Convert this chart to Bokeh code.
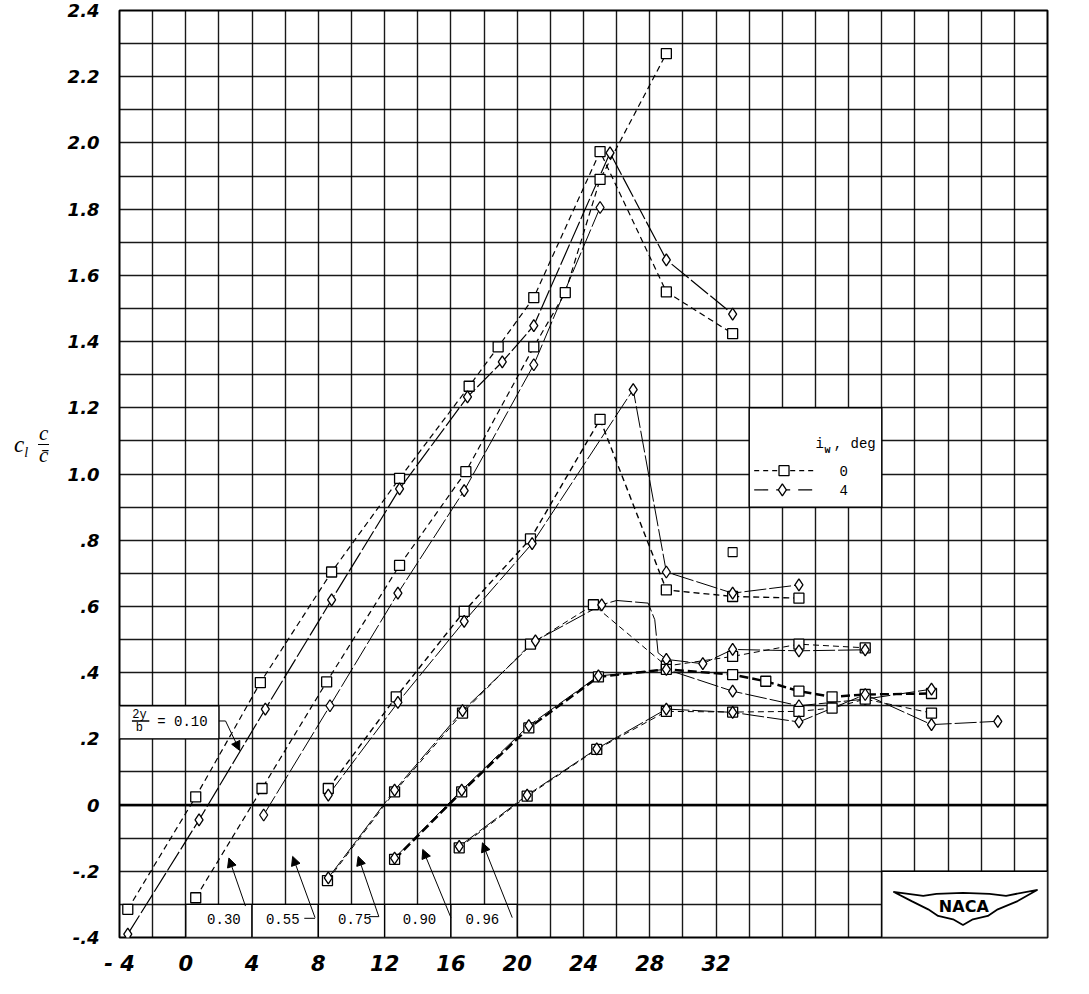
from bokeh.plotting import figure
from bokeh.layouts import row
from bokeh.models import FixedTicker, Arrow, NormalHead, Span, Div
from bokeh.embed import file_html
from bokeh.resources import INLINE
from bokeh.core.properties import value

# ---------------- data ----------------
# 2y/b = 0.10
a010_0 = [-3.5, 0.6, 4.5, 8.8, 12.9, 17.1, 18.85, 21.0, 25.0, 29.0, 33.0]
c010_0 = [-0.315, 0.025, 0.37, 0.704, 0.987, 1.265, 1.384, 1.533, 1.974, 1.55, 1.424]
a010_4 = [-3.5, 0.8, 4.8, 8.8, 12.9, 17.0, 19.1, 21.0, 25.6, 29.0, 33.0]
c010_4 = [-0.39, -0.045, 0.29, 0.62, 0.955, 1.233, 1.339, 1.448, 1.97, 1.647, 1.483]
# 2y/b = 0.30
a030_0 = [0.6, 4.6, 8.5, 12.9, 16.9, 21.0, 22.9, 25.0, 29.0]
c030_0 = [-0.28, 0.05, 0.372, 0.724, 1.007, 1.384, 1.548, 1.89, 2.27]
a030_4 = [4.7, 8.7, 12.8, 16.8, 21.0, 25.0]
c030_4 = [-0.03, 0.30, 0.64, 0.95, 1.33, 1.805]
# 2y/b = 0.55
a055_0 = [8.6, 12.7, 16.8, 20.8, 25.0, 29.0, 33.0, 37.0]
c055_0 = [0.05, 0.327, 0.585, 0.804, 1.165, 0.65, 0.63, 0.625]
a055_4 = [8.6, 12.8, 16.8, 20.9, 27.0, 29.0, 33.0, 37.0]
c055_4 = [0.03, 0.31, 0.555, 0.79, 1.255, 0.704, 0.64, 0.665]
a055_extra = [33.0]
c055_extra = [0.764]
# 2y/b = 0.75
a075_0 = [8.55, 12.6, 16.7, 20.8, 24.6, 29.0, 33.0, 37.0, 41.0]
c075_0 = [-0.228, 0.04, 0.278, 0.486, 0.605, 0.42, 0.449, 0.486, 0.475]
a075_4 = [8.6, 12.6, 16.7, 21.1, 25.1, 29.0, 31.2, 33.0, 37.0, 41.0]
c075_4 = [-0.22, 0.045, 0.285, 0.496, 0.605, 0.44, 0.427, 0.47, 0.466, 0.469]
# faired curve of the 0.75 plateau
a075_curve = [8.6, 12.6, 16.7, 21.1, 25.1, 26.0, 27.9, 28.3, 28.5, 29.0, 31.2, 33.0, 37.0, 41.0]
c075_curve = [-0.22, 0.045, 0.285, 0.496, 0.605, 0.618, 0.61, 0.56, 0.46, 0.44, 0.427, 0.47, 0.466, 0.469]
# 2y/b = 0.90
a090_0 = [12.6, 16.65, 20.7, 24.9, 29.0, 33.0, 35.0, 37.0, 39.0, 41.0, 45.0]
c090_0 = [-0.164, 0.04, 0.233, 0.387, 0.41, 0.394, 0.374, 0.344, 0.327, 0.334, 0.337]
a090_4 = [12.6, 16.65, 20.7, 24.9, 29.0, 33.0, 37.0, 41.0, 45.0]
c090_4 = [-0.16, 0.045, 0.24, 0.39, 0.41, 0.344, 0.30, 0.32, 0.35]
# 2y/b = 0.96
a096_0 = [16.5, 20.6, 24.8, 29.0, 33.0, 37.0, 39.0, 41.0, 45.0]
c096_0 = [-0.129, 0.027, 0.168, 0.283, 0.281, 0.283, 0.293, 0.32, 0.278]
a096_4 = [16.5, 20.6, 24.8, 29.0, 33.0, 37.0, 41.0, 45.0, 49.0]
c096_4 = [-0.125, 0.03, 0.17, 0.29, 0.28, 0.251, 0.334, 0.243, 0.253]

station_labels = ["0.30", "0.55", "0.75", "0.90", "0.96"]
x_tick_vals = [-4, 0, 4, 8, 12, 16, 20, 24, 28, 32]
y_tick_vals = [-0.4, -0.2, 0, 0.2, 0.4, 0.6, 0.8, 1.0, 1.2, 1.4, 1.6, 1.8, 2.0, 2.2, 2.4]
y_tick_text = ["-.4", "-.2", "0", ".2", ".4", ".6", ".8", "1.0", "1.2", "1.4", "1.6", "1.8", "2.0", "2.2", "2.4"]

# ---------------- layout sizes ----------------
TITLE_W = 62
FIG_W = 1073 - TITLE_W
FIG_H = 978

# ---------------- figure ----------------
p = figure(width=FIG_W, height=FIG_H, x_range=(-4, 52), y_range=(-0.4, 2.4),
           output_backend="svg", toolbar_location=None,
           min_border_left=119 - TITLE_W, min_border_right=26,
           min_border_top=10, min_border_bottom=34, margin=0)
p.background_fill_color = "white"
p.border_fill_color = "white"
p.outline_line_color = "black"
p.outline_line_width = 2

p.xgrid.ticker = FixedTicker(ticks=list(range(-4, 53, 2)))
p.ygrid.ticker = FixedTicker(ticks=[round(-0.4 + 0.1 * i, 1) for i in range(29)])
for g in (p.xgrid, p.ygrid):
    g.grid_line_color = "black"
    g.grid_line_width = 1.4
    g.grid_line_alpha = 0.9

p.xaxis.ticker = FixedTicker(ticks=x_tick_vals)
p.xaxis.major_label_overrides = {-4: "- 4"}
p.yaxis.ticker = FixedTicker(ticks=y_tick_vals)
p.yaxis.major_label_overrides = {v: t for v, t in zip(y_tick_vals, y_tick_text)}
for ax in (p.xaxis, p.yaxis):
    ax.axis_line_color = None
    ax.major_tick_line_color = None
    ax.minor_tick_line_color = None
    ax.major_label_text_font = "DejaVu Sans"
    ax.major_label_text_font_style = "bold italic"
    ax.major_label_text_color = "black"
p.xaxis.major_label_text_font_size = "21px"
p.yaxis.major_label_text_font_size = "18px"
p.xaxis.major_label_standoff = 8
p.yaxis.major_label_standoff = 14

p.add_layout(Span(location=0, dimension="width", line_color="black", line_width=2.6))

# white label boxes that interrupt the grid
box_l = [-4, 0, 4, 8, 12, 16, 34, 42]
box_r = [2, 4, 8, 12, 16, 20, 42, 52]
box_b = [0.2, -0.4, -0.4, -0.4, -0.4, -0.4, 0.9, -0.4]
box_t = [0.3, -0.3, -0.3, -0.3, -0.3, -0.3, 1.2, -0.2]
p.quad(left=box_l, right=box_r, bottom=box_b, top=box_t,
       fill_color="white", line_color="black", line_width=1.4)

# ---------------- curves ----------------
DASH0 = "6 4"
DASH4 = "22 3"
series = [
    (a010_0, c010_0, "square", DASH0, 1.2),
    (a010_4, c010_4, "diamond", DASH4, 1.2),
    (a030_0, c030_0, "square", DASH0, 1.2),
    (a030_4, c030_4, "diamond", DASH4, 1.0),
    (a055_0, c055_0, "square", DASH0, 1.4),
    (a055_4, c055_4, "diamond", DASH4, 1.0),
    (a075_0, c075_0, "square", DASH0, 1.0),
    (a075_4, c075_4, "diamond", None, 1.0),
    (a090_0, c090_0, "square", "9 4", 2.4),
    (a090_4, c090_4, "diamond", DASH4, 1.0),
    (a096_0, c096_0, "square", DASH0, 1.0),
    (a096_4, c096_4, "diamond", DASH4, 1.0),
]
for xs, ys, mk, dash, lw in series:
    if dash is not None:
        p.line(xs, ys, line_color="black", line_width=lw, line_dash=dash)
p.line(a075_curve, c075_curve, line_color="black", line_width=1.0, line_dash=DASH4)
for xs, ys, mk, dash, lw in series:
    p.scatter(xs, ys, marker=mk, size=10 if mk == "square" else 12,
              fill_color="white", line_color="black", line_width=1.3)
p.scatter(a055_extra, c055_extra, marker="square", size=9,
          fill_color="white", line_color="black", line_width=1.1)

# ---------------- station labels ----------------
MONO = value("Liberation Mono")
p.text(x=[2.3, 5.85, 10.2, 14.1, 17.9], y=[-0.345] * 5, text=station_labels,
       text_font=MONO, text_font_size="14px", text_align="center",
       text_baseline="middle", text_color="black")
# 2y/b = 0.10
p.text(x=[-2.8], y=[0.272], text=["2y"], text_font=MONO, text_font_size="12px",
       text_align="center", text_baseline="middle")
p.segment(x0=[-3.25], y0=[0.254], x1=[-2.2], y1=[0.254], line_color="black", line_width=1.6)
p.text(x=[-2.8], y=[0.232], text=["b"], text_font=MONO, text_font_size="12px",
       text_align="center", text_baseline="middle")
p.text(x=[-0.2], y=[0.25], text=["= 0.10"], text_font=MONO, text_font_size="14px",
       text_align="center", text_baseline="middle")

# leaders
p.segment(x0=[2.0], y0=[0.254], x1=[2.4], y1=[0.254], line_color="black", line_width=1)
lead = [(2.4, 0.254, 3.25, 0.165), (3.6, -0.305, 2.6, -0.16), (7.8, -0.34, 6.45, -0.155),
        (11.65, -0.337, 10.4, -0.155), (16.0, -0.34, 14.3, -0.134), (19.7, -0.34, 17.9, -0.114)]
for x0, y0, x1, y1 in lead:
    p.add_layout(Arrow(end=NormalHead(size=9, fill_color="black", line_color="black"),
                       x_start=x0, y_start=y0, x_end=x1, y_end=y1,
                       line_color="black", line_width=1))
p.segment(x0=[7.15, 11.05], y0=[-0.342, -0.337], x1=[7.8, 11.65], y1=[-0.342, -0.337],
          line_color="black", line_width=1)

# ---------------- legend ----------------
p.text(x=[38.0], y=[1.09], text=["i"], text_font=MONO, text_font_size="14px",
       text_baseline="middle")
p.text(x=[38.55], y=[1.07], text=["w"], text_font=MONO, text_font_size="10px",
       text_font_style="bold", text_baseline="middle")
p.text(x=[39.1], y=[1.09], text=[",  deg"], text_font=MONO, text_font_size="14px",
       text_baseline="middle")
p.line([34.3, 38.1], [1.01, 1.01], line_color="black", line_width=1.2, line_dash="5 4")
p.line([34.3, 38.1], [0.952, 0.952], line_color="black", line_width=1.2, line_dash="14 8")
p.scatter([36.1], [1.01], marker="square", size=10, fill_color="white", line_color="black", line_width=1.3)
p.scatter([36.0], [0.952], marker="diamond", size=12, fill_color="white", line_color="black", line_width=1.3)
p.text(x=[39.7, 39.7], y=[1.01, 0.952], text=["0", "4"], text_font=MONO, text_font_size="14px",
       text_align="center", text_baseline="middle")

# ---------------- NACA logo ----------------
logo_x = [42.7, 44.5, 45.3, 46.9, 48.5, 49.5, 51.4, 50.2, 49.0, 48.4, 47.5, 46.9, 46.3, 45.4, 44.8, 43.8]
logo_y = [-0.262, -0.274, -0.268, -0.265, -0.268, -0.274, -0.256, -0.29, -0.315, -0.335, -0.345,
          -0.362, -0.345, -0.335, -0.315, -0.29]
p.patch(logo_x, logo_y, fill_color="white", line_color="black", line_width=1.8)
p.text(x=[46.95], y=[-0.305], text=["NACA"], text_font=value("DejaVu Sans"),
       text_font_size="16px", text_font_style="bold", text_align="center", text_baseline="middle")

# ---------------- y axis title (horizontal, as in the reference) ----------------
title_html = (
    '<div style="position:relative;width:%dpx;height:%dpx;'
    'font-family:\'Liberation Serif\',serif;font-style:italic;color:black;">'
    '<div style="position:absolute;left:14px;top:433px;font-size:23px;line-height:23px;">'
    'c<span style="font-size:14px;position:relative;top:5px;">l</span></div>'
    '<div style="position:absolute;left:38px;top:423px;font-size:21px;line-height:20px;text-align:center;">'
    '<div style="border-bottom:1.6px solid black;padding:0 1px 1px 1px;">c</div>'
    '<div>c&#772;</div></div>'
    '</div>'
) % (TITLE_W, FIG_H)
title = Div(text=title_html, width=TITLE_W, height=FIG_H, margin=0)

layout = row(title, p, margin=0)
open("out.html", "w").write(file_html(layout, INLINE))
